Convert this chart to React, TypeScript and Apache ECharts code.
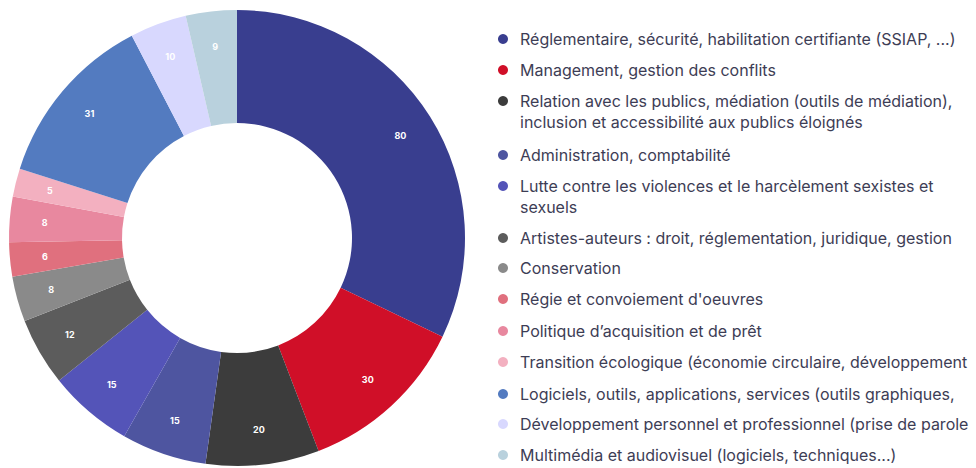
import React, { useEffect, useRef } from "react";
import * as echarts from "echarts";

const categories: string[] = [
  "Réglementaire, sécurité, habilitation certifiante (SSIAP, ...)",
  "Management, gestion des conflits",
  "Relation avec les publics, médiation (outils de médiation), inclusion et accessibilité aux publics éloignés",
  "Administration, comptabilité",
  "Lutte contre les violences et le harcèlement sexistes et sexuels",
  "Artistes-auteurs : droit, réglementation, juridique, gestion",
  "Conservation",
  "Régie et convoiement d'oeuvres",
  "Politique d’acquisition et de prêt",
  "Transition écologique (économie circulaire, développement",
  "Logiciels, outils, applications, services (outils graphiques,",
  "Développement personnel et professionnel (prise de parole",
  "Multimédia et audiovisuel (logiciels, techniques...)",
];

const values: number[] = [80, 30, 20, 15, 15, 12, 8, 6, 8, 5, 31, 10, 9];

const colors: string[] = [
  "#393e8f",
  "#d00f28",
  "#3c3c3c",
  "#4e55a0",
  "#5454b8",
  "#5c5c5c",
  "#8a8a8a",
  "#e0707e",
  "#e8889f",
  "#f3b0c0",
  "#537bc0",
  "#d8d8fe",
  "#b9d1dd",
];

// legend display lines (wrapped as in the picture)
const legendLines: string[][] = [
  ["Réglementaire, sécurité, habilitation certifiante (SSIAP, ...)"],
  ["Management, gestion des conflits"],
  ["Relation avec les publics, médiation (outils de médiation),", "inclusion et accessibilité aux publics éloignés"],
  ["Administration, comptabilité"],
  ["Lutte contre les violences et le harcèlement sexistes et", "sexuels"],
  ["Artistes-auteurs : droit, réglementation, juridique, gestion"],
  ["Conservation"],
  ["Régie et convoiement d'oeuvres"],
  ["Politique d’acquisition et de prêt"],
  ["Transition écologique (économie circulaire, développement"],
  ["Logiciels, outils, applications, services (outils graphiques,"],
  ["Développement personnel et professionnel (prise de parole"],
  ["Multimédia et audiovisuel (logiciels, techniques...)"],
];

const LINE_H = 21;
const legendIconCenters: number[] = [39, 70, 101, 155, 186, 238, 268, 299, 331, 362, 394, 424, 455];

export default function App() {
  const ref = useRef<HTMLDivElement>(null);

  useEffect(() => {
    if (!ref.current) return;
    const chart = echarts.init(ref.current, undefined, { renderer: "svg" });

    const data = categories.map((name, i) => ({
      name,
      value: values[i],
      itemStyle: { color: colors[i] },
    }));

    const legends = categories.map((name, i) => {
      const lines = legendLines[i];
      const multi = lines.length > 1;
      const text = multi ? "\n" + lines.join("\n") : lines[0];
      const top = multi
        ? legendIconCenters[i] - LINE_H * 1.5
        : legendIconCenters[i] - LINE_H / 2;
      return {
        orient: "vertical",
        left: 498,
        top,
        padding: 0,
        itemWidth: 10,
        itemHeight: 10,
        icon: "circle",
        selectedMode: false,
        data: [{ name, itemStyle: { color: colors[i] } }],
        formatter: () => text,
        textStyle: {
          fontFamily: "Inter, 'Noto Sans', sans-serif",
          fontSize: 16,
          color: "#3d3d55",
          lineHeight: LINE_H,
          padding: [0, 0, 0, 7],
        },
      };
    });

    chart.setOption({
      animation: false,
      backgroundColor: "#ffffff",
      legend: legends,
      series: [
        {
          type: "pie",
          center: [237, 238],
          radius: [115, 228],
          startAngle: 90,
          clockwise: true,
          avoidLabelOverlap: false,
          label: { show: false },
          labelLine: { show: false },
          emphasis: { disabled: true },
          data,
        },
        {
          type: "pie",
          center: [237, 238],
          radius: [152, 228],
          startAngle: 90,
          clockwise: true,
          silent: true,
          avoidLabelOverlap: false,
          itemStyle: { color: "rgba(0,0,0,0)" },
          label: {
            show: true,
            position: "inside",
            formatter: "{c}",
            color: "#ffffff",
            fontSize: 9,
            fontWeight: "bold",
            fontFamily: "Inter, 'Noto Sans', sans-serif",
          },
          labelLine: { show: false },
          emphasis: { disabled: true },
          data: categories.map((name, i) => ({ name, value: values[i] })),
        },
      ],
    });

    return () => {
      chart.dispose();
    };
  }, []);

  return (
    <div
      ref={ref}
      style={{ position: "fixed", left: 0, top: 0, width: 976, height: 468, background: "#fff" }}
    />
  );
}
